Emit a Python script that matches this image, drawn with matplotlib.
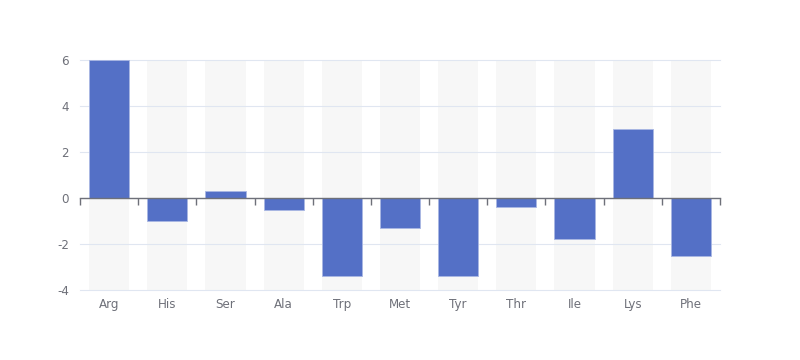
import matplotlib
matplotlib.use("Agg")
import matplotlib.pyplot as plt
import numpy as np

categories = ["Arg", "His", "Ser", "Ala", "Trp", "Met", "Tyr", "Thr", "Ile", "Lys", "Phe"]
values = [6, -1.0, 0.3, -0.5, -3.4, -1.3, -3.4, -0.4, -1.8, 3.0, -2.5]
y_ticks = [-4, -2, 0, 2, 4, 6]

y_min, y_max = -4, 6
bar_color = "#5470C6"
bg_color = "#F7F7F7"
axis_color = "#6E7079"
grid_color = "#E0E6F1"

fig = plt.figure(figsize=(8, 3.6), dpi=100)
ax = fig.add_axes([0.1, 70 / 360, 0.8, 230 / 360])

x = np.arange(len(categories))
w = 0.69
ax.bar(x, [y_max - y_min] * len(x), bottom=y_min, width=w, color=bg_color, zorder=0.1)
ax.bar(x, values, width=w, color=bar_color, edgecolor="#A9B7E3", linewidth=0.6, zorder=3)

ax.set_xlim(-0.5, len(categories) - 0.5)
ax.set_ylim(y_min, y_max)
ax.set_yticks(y_ticks)
ax.set_yticklabels([str(t) for t in y_ticks])
ax.tick_params(axis="y", length=0, pad=8, labelsize=8.6, labelcolor=axis_color)
ax.set_axisbelow(True)
ax.yaxis.grid(True, color=grid_color, linewidth=0.8)
for gl in ax.yaxis.get_gridlines():
    gl.set_clip_on(False)

for s in ["top", "right", "left"]:
    ax.spines[s].set_visible(False)
ax.spines["bottom"].set_position(("data", 0))
ax.spines["bottom"].set_color(axis_color)
ax.spines["bottom"].set_linewidth(1)
ax.spines["bottom"].set_zorder(4)

ax.set_xticks(np.arange(len(categories) + 1) - 0.5)
ax.set_xticklabels([])
ax.tick_params(axis="x", length=5, width=1, color=axis_color, direction="out")

sec = ax.secondary_xaxis(0)
sec.set_xticks(x)
sec.set_xticklabels(categories)
sec.tick_params(axis="x", length=0, pad=6, labelsize=8.6, labelcolor=axis_color)
sec.spines["bottom"].set_visible(False)

fig.savefig("out.png", dpi=100)
